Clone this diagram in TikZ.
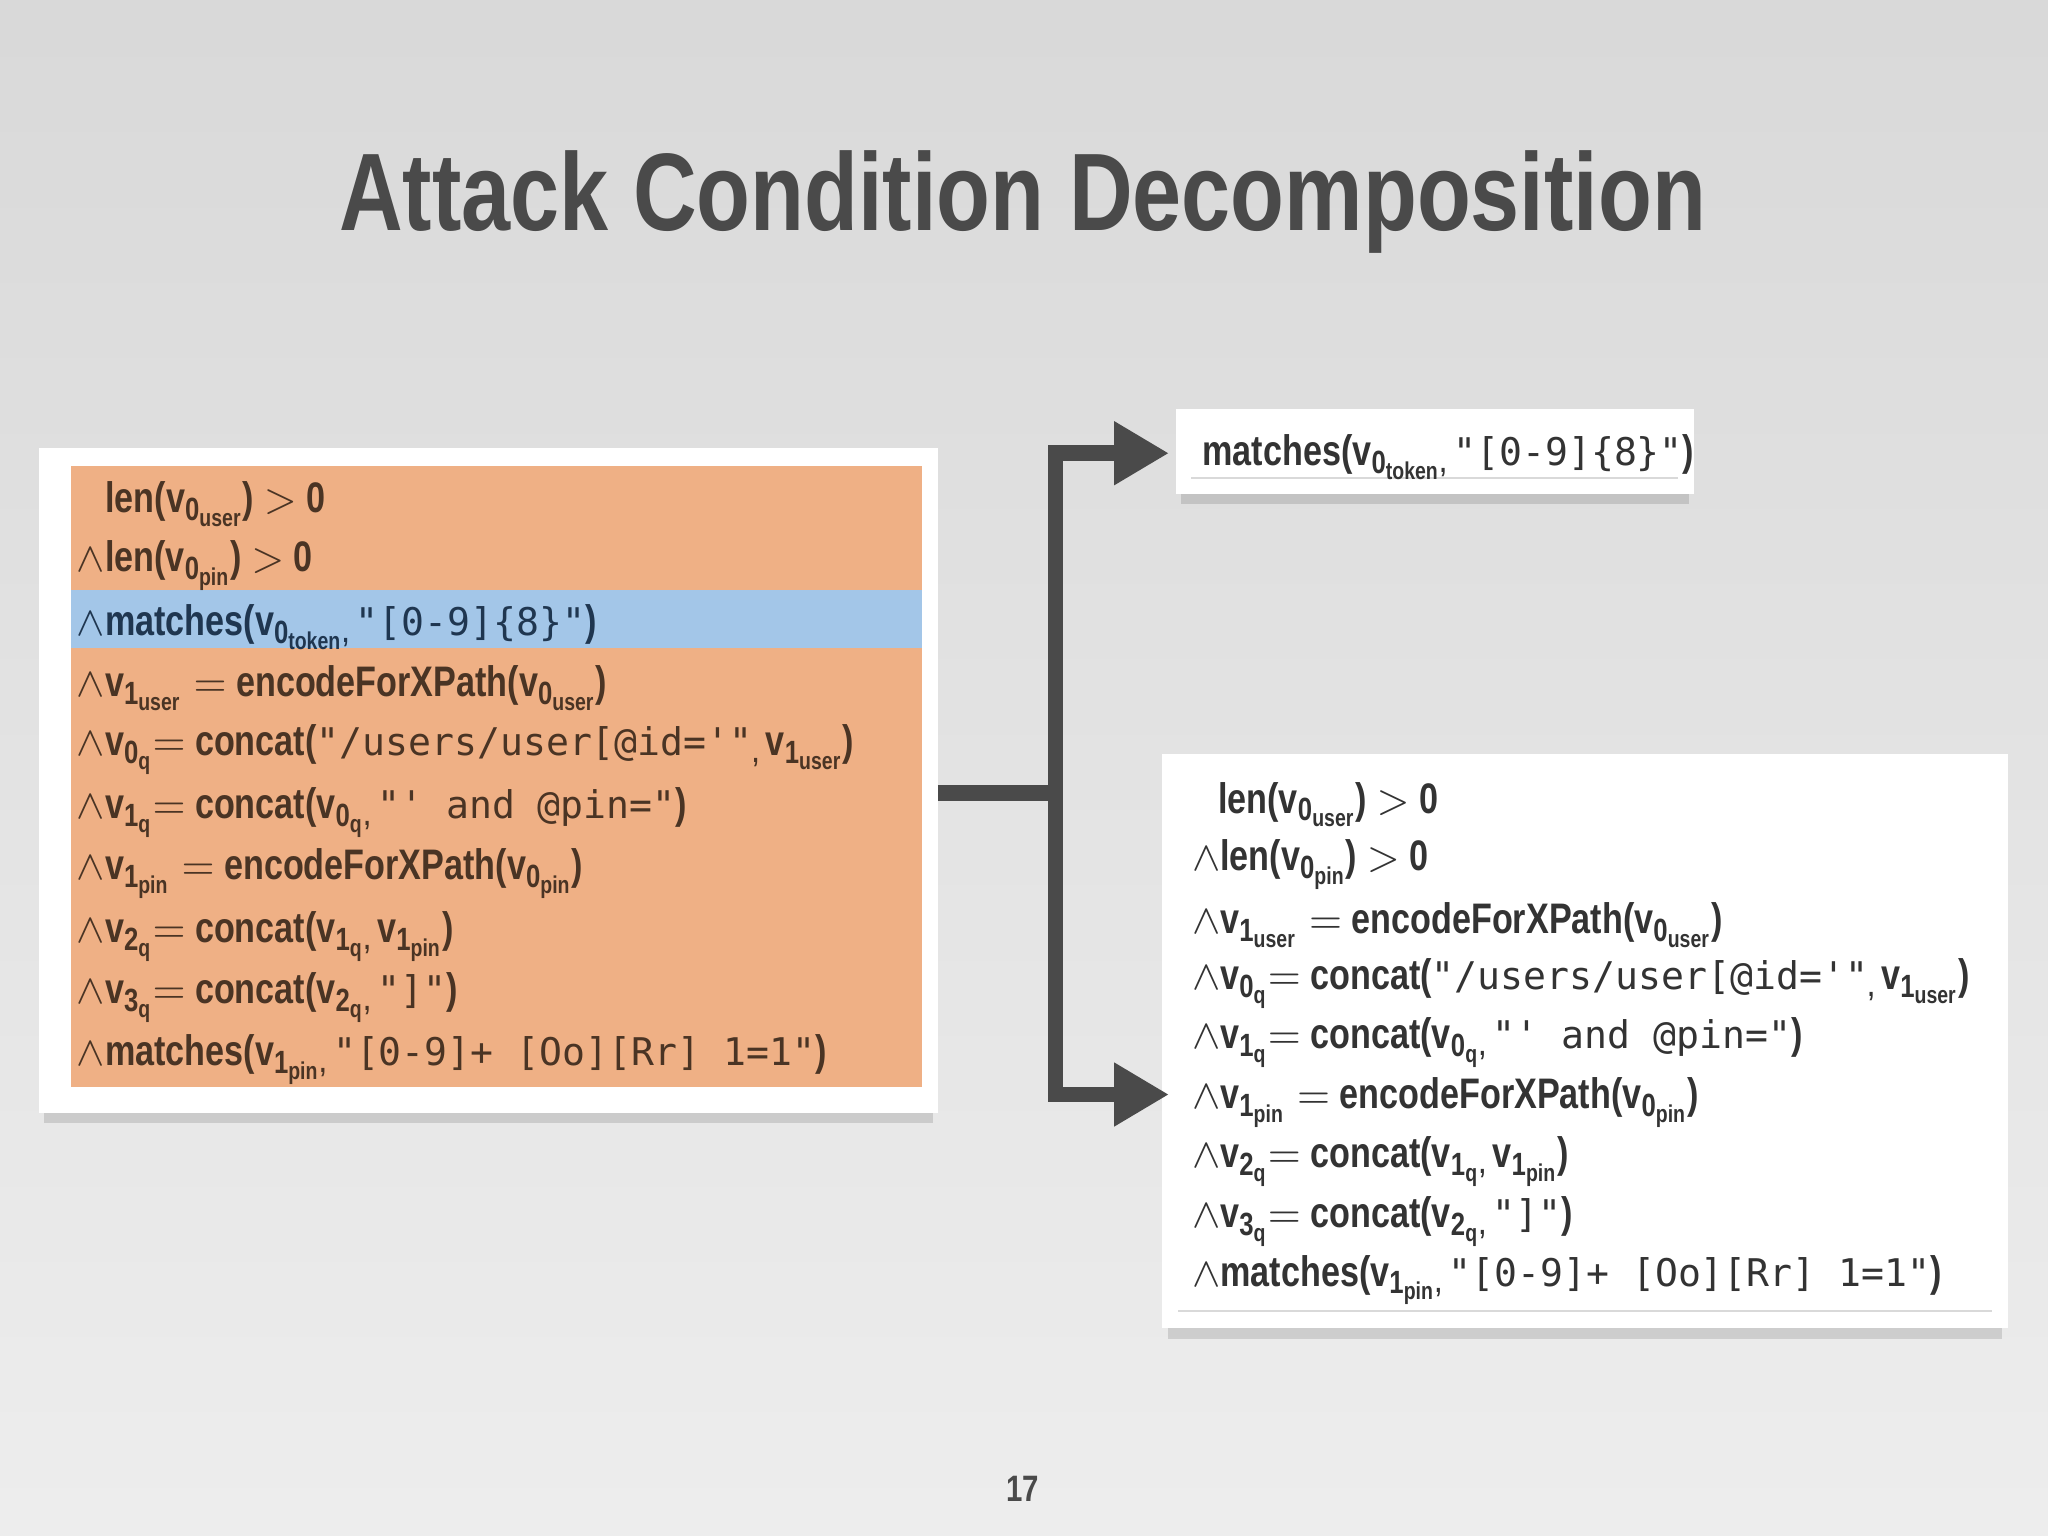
\documentclass[tikz,border=0pt]{standalone}
\usepackage{fontspec}
\setmainfont{Liberation Sans}[FakeStretch=0.8,BoldFont={Liberation Sans Bold},BoldFeatures={FakeStretch=0.8}]
\setmonofont{DejaVu Sans Mono}
\usetikzlibrary{arrows.meta}
\definecolor{ttl}{HTML}{4A4A4A}
\definecolor{org}{HTML}{EFB085}
\definecolor{blu}{HTML}{A3C6E8}
\definecolor{otxt}{HTML}{4A3424}
\definecolor{btxt}{HTML}{1F3650}
\definecolor{wtxt}{HTML}{333333}
\newcommand{\vs}[2]{v\raisebox{-0.35ex}{\fontsize{7}{8}\selectfont #1\raisebox{-0.35ex}{\fontsize{5.3}{6}\selectfont #2}}\kern0.5pt}
\newcommand{\ms}[1]{{\mdseries\ttfamily\fontsize{8.3}{10}\selectfont #1}}
\newcommand{\cm}{\raisebox{-0.3ex}{\fontsize{6}{7}\selectfont ,}\,}
\tikzset{row/.style={anchor=west,inner sep=0pt,yshift=-0.05cm,font=\bfseries\fontsize{9.3}{11}\selectfont},
 conn/.style={line width=0.12cm,draw=ttl},
 arr/.style={conn,-{Triangle[length=0.42cm,width=0.46cm]}}}
\begin{document}
\begin{tikzpicture}[x=0.01cm,y=-0.01cm]
\shade[top color=gray!30, bottom color=gray!14] (0,0) rectangle (1568,1176);
\useasboundingbox (0,0) rectangle (1568,1176);
\node[font=\bfseries\fontsize{24}{28}\selectfont,text=ttl] (title) at (783,155) {Attack Condition Decomposition};
\node[font=\bfseries\fontsize{8}{10}\selectfont,text=ttl] (pg) at (783,1140) {17};
% shadows
\fill[black,opacity=0.12] (34,852) rectangle (714,860);
\fill[black,opacity=0.12] (904,378) rectangle (1293,386);
\fill[black,opacity=0.12] (894,1017) rectangle (1533,1025);
% left box
\fill[white] (30,343) rectangle (718,852);
\fill[org] (54,357) rectangle (706,832);
\fill[blu] (54,452) rectangle (706,496);
\begin{scope}[text=otxt]
\node[row] (l1) at (80,381) {len(\vs{0}{user}) $>$ 0};
\node[row] (l2) at (58,428) {$\wedge$len(\vs{0}{pin}) $>$ 0};
\node[row,text=btxt] (l3) at (58,475) {$\wedge$matches(\vs{0}{token}\cm\ms{"[0-9]\{8\}"})};
\node[row] (l4) at (58,522) {$\wedge$\vs{1}{user} \;$=$ encodeForXPath(\vs{0}{user})};
\node[row] (l5) at (58,569) {$\wedge$\vs{0}{q} $=$ concat(\ms{"/users/user[@id='"}\cm\vs{1}{user})};
\node[row] (l6) at (58,617) {$\wedge$\vs{1}{q} $=$ concat(\vs{0}{q}\cm\ms{"' and @pin="})};
\node[row] (l7) at (58,664) {$\wedge$\vs{1}{pin} \;$=$ encodeForXPath(\vs{0}{pin})};
\node[row] (l8) at (58,712) {$\wedge$\vs{2}{q} $=$ concat(\vs{1}{q}\cm\vs{1}{pin})};
\node[row] (l9) at (58,759) {$\wedge$\vs{3}{q} $=$ concat(\vs{2}{q}\cm\ms{"]"})};
\node[row] (l10) at (58,806) {$\wedge$matches(\vs{1}{pin}\cm\ms{"[0-9]+ [Oo][Rr] 1=1"})};
\end{scope}
\coordinate (lr) at (718,607);
% top right
\fill[white] (900,313) rectangle (1297,378);
\draw[gray!30] (912,366) -- (1285,366);
\node[row,text=wtxt] (t1) at (920,345) {matches(\vs{0}{token}\cm\ms{"[0-9]\{8\}"})};
\coordinate (ta) at (895,347);
% bottom right
\fill[white] (890,577) rectangle (1537,1017);
\draw[gray!30] (902,1004) -- (1525,1004);
\begin{scope}[text=wtxt]
\node[row] (r1) at (932,611) {len(\vs{0}{user}) $>$ 0};
\node[row] (r2) at (912,657) {$\wedge$len(\vs{0}{pin}) $>$ 0};
\node[row] (r3) at (912,703) {$\wedge$\vs{1}{user} \;$=$ encodeForXPath(\vs{0}{user})};
\node[row] (r4) at (912,748) {$\wedge$\vs{0}{q} $=$ concat(\ms{"/users/user[@id='"}\cm\vs{1}{user})};
\node[row] (r5) at (912,793) {$\wedge$\vs{1}{q} $=$ concat(\vs{0}{q}\cm\ms{"' and @pin="})};
\node[row] (r6) at (912,839) {$\wedge$\vs{1}{pin} \;$=$ encodeForXPath(\vs{0}{pin})};
\node[row] (r7) at (912,884) {$\wedge$\vs{2}{q} $=$ concat(\vs{1}{q}\cm\vs{1}{pin})};
\node[row] (r8) at (912,930) {$\wedge$\vs{3}{q} $=$ concat(\vs{2}{q}\cm\ms{"]"})};
\node[row] (r9) at (912,975) {$\wedge$matches(\vs{1}{pin}\cm\ms{"[0-9]+ [Oo][Rr] 1=1"})};
\end{scope}
\coordinate (ba) at (895,838);
% connectors
\coordinate (j) at (808,607);
\draw[conn] (lr) -- (j);
\draw[arr] (j) |- (ta);
\draw[arr] (j) |- (ba);
\end{tikzpicture}
\end{document}
